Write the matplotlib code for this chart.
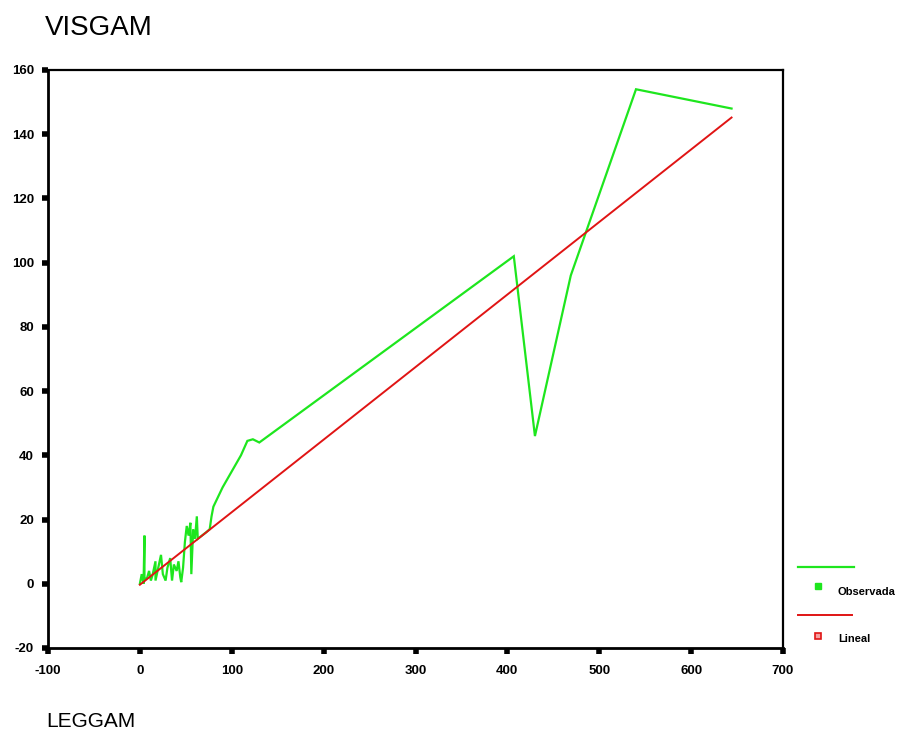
import matplotlib
matplotlib.use("Agg")
import matplotlib.pyplot as plt
from matplotlib.lines import Line2D

# ---- data ----
obs_x = [0, 2, 4, 5, 5, 8, 10, 12, 14, 17, 17, 20, 23, 25, 28, 30, 33, 35, 37,
         40, 42, 44, 45, 47, 49, 51, 53, 55, 56, 58, 60, 62, 63, 72, 76, 78, 80,
         90, 100, 110, 117, 123, 130, 407, 430, 469, 540, 644]
obs_y = [0, 3, 0, 15, 1, 2, 4, 1, 3, 7, 1, 5, 9, 3, 1, 5, 8, 1, 6,
         4, 7, 2, 0.5, 5, 13, 18, 15, 19, 3, 17, 14, 21, 14, 16, 17, 21, 24,
         30, 35, 40, 44.5, 45, 44, 102, 46, 96, 154, 148]
fit_x = [0, 644]
fit_y = [-0.3, 145.2]

x_ticks = [-100, 0, 100, 200, 300, 400, 500, 600, 700]
y_ticks = [-20, 0, 20, 40, 60, 80, 100, 120, 140, 160]

title_text = "VISGAM"
xlabel_text = "LEGGAM"
legend_labels = ["Observada", "Lineal"]

GREEN = "#1EE61E"
RED = "#E01414"
FONT = ["Liberation Sans", "DejaVu Sans"]

plt.rcParams["font.family"] = FONT

W, H = 909, 733
fig = plt.figure(figsize=(W / 100, H / 100), dpi=100)
fig.patch.set_facecolor("white")
ax = fig.add_axes([48 / W, 85 / H, 735 / W, 578 / H])

ax.plot(obs_x, obs_y, color=GREEN, lw=1.6, solid_joinstyle="miter", zorder=3)
ax.plot(fit_x, fit_y, color=RED, lw=1.4, zorder=4)

ax.set_xlim(-100, 700)
ax.set_ylim(-20, 160)
ax.set_xticks(x_ticks)
ax.set_yticks(y_ticks)
ax.set_xticklabels([str(v) for v in x_ticks])
ax.set_yticklabels([str(v) for v in y_ticks])

for s in ax.spines.values():
    s.set_linewidth(1.6)
    s.set_color("black")
ax.spines["left"].set_linewidth(2.0)
ax.spines["bottom"].set_linewidth(2.0)

ax.tick_params(axis="both", direction="out", length=4, width=4, color="black",
               labelsize=9.5)
ax.tick_params(axis="x", pad=8)
ax.tick_params(axis="y", pad=6)
for lab in ax.get_xticklabels() + ax.get_yticklabels():
    lab.set_fontweight("bold")
    lab.set_family(FONT)

fig.text(45 / W, 1 - 35 / H, title_text, fontsize=20, ha="left", va="baseline",
         family=FONT)
fig.text(46 / W, 1 - 727 / H, xlabel_text, fontsize=15, ha="left", va="baseline",
         family=FONT)

# legend outside on the right
def fx(px):
    return px / W

def fy(py):
    return 1 - py / H

fig.add_artist(Line2D([fx(798), fx(854)], [fy(567), fy(567)], color=GREEN, lw=1.6,
                      transform=fig.transFigure))
fig.add_artist(Line2D([fx(818)], [fy(586)], marker="s", markersize=4,
                      color=GREEN, linestyle="none", transform=fig.transFigure))
fig.text(fx(838), fy(592), legend_labels[0], fontsize=8, fontweight="bold",
         ha="left", va="center", family=FONT)
fig.add_artist(Line2D([fx(798), fx(852)], [fy(615), fy(615)], color=RED, lw=1.4,
                      transform=fig.transFigure))
fig.add_artist(Line2D([fx(818)], [fy(636)], marker="s", markersize=4,
                      markerfacecolor="#F5A0A0", markeredgecolor=RED, mew=1.2,
                      linestyle="none", transform=fig.transFigure))
fig.text(fx(838), fy(639), legend_labels[1], fontsize=8, fontweight="bold",
         ha="left", va="center", family=FONT)

fig.savefig("out.png", dpi=100, facecolor="white")
